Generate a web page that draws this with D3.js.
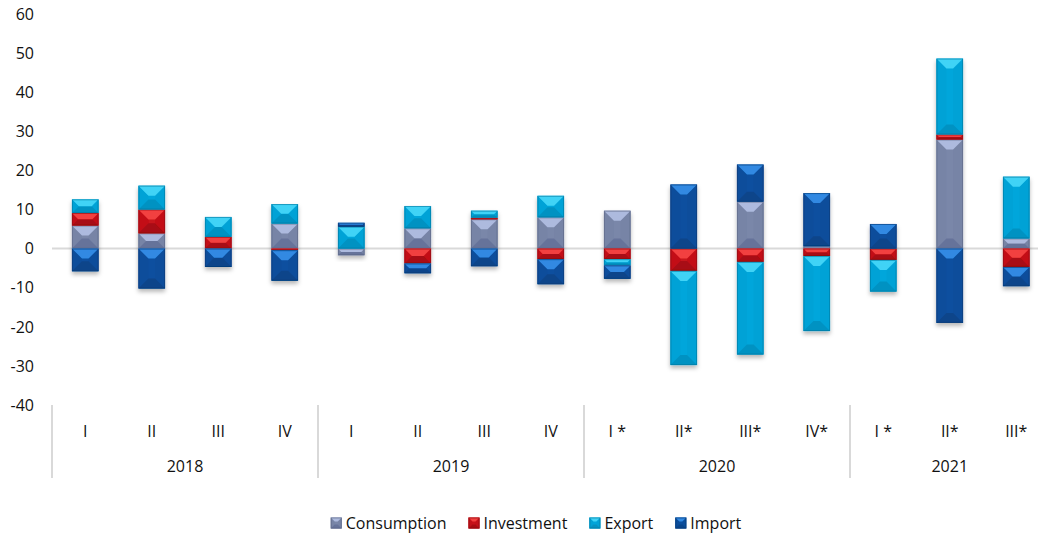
<!DOCTYPE html>
<html>
<head>
<meta charset="utf-8">
<script src="https://cdn.jsdelivr.net/npm/d3@7"></script>
<style>
  html, body { margin: 0; padding: 0; background: #fff; }
  svg { display: block; font-family: "Open Sans", "Noto Sans", sans-serif; }
</style>
</head>
<body>
<svg id="chart" width="1038" height="534"></svg>
<script>
// ---- data ----
const quarters = ["I","II","III","IV","I","II","III","IV","I *","II*","III*","IV*","I *","II*","III*"];
const years = ["2018","2019","2020","2021"];
const yearCounts = [4, 4, 4, 3];
const seriesNames = ["Consumption","Investment","Export","Import"];
const consumption = [5.9, 3.9, 0, 6.4, -1.7, 5.2, 7.5, 8.0, 9.7, 0, 12.0, 0.6, 0, 27.9, 2.6];
const investment  = [3.2, 6.1, 3.0, -0.4, 0, -3.8, 0.4, -2.7, -2.7, -5.7, -3.4, -1.9, -2.9, 1.3, -4.7];
const exportVals  = [3.5, 6.1, 5.1, 5.0, 5.6, 5.7, 1.8, 5.5, -1.6, -24.1, -23.7, -19.2, -8.1, 19.4, 15.8];
const importVals  = [-5.8, -10.2, -4.7, -7.8, 1.0, -2.5, -4.5, -6.4, -3.4, 16.4, 9.5, 13.6, 6.3, -19.0, -4.9];
const yTicks = [-40, -30, -20, -10, 0, 10, 20, 30, 40, 50, 60];

// ---- styles ----
const palette = {
  Consumption: { base: "#7a87a9", top: "#adbade", bot: "#66739a", side: "#7784a6", stroke: "#5b6683" },
  Investment:  { base: "#c8121a", top: "#f2403f", bot: "#a80c12", side: "#c31119", stroke: "#8a0b10" },
  Export:      { base: "#00a6db", top: "#3fd3f6", bot: "#0592c2", side: "#01a2d6", stroke: "#05789f" },
  Import:      { base: "#0b4f9f", top: "#3189e2", bot: "#09458a", side: "#0b4d9b", stroke: "#073a75" }
};

const svg = d3.select("#chart");
const W = 1038, H = 534;
const plotL = 52, band = 66.5;
const FS = 16;
const x = d3.scaleBand().domain(d3.range(quarters.length)).range([plotL, plotL + band * quarters.length]).paddingInner(0.6).paddingOuter(0.3);
const y = d3.scaleLinear().domain([-40, 60]).range([405, 14]);

const defs = svg.append("defs");
const f = defs.append("filter").attr("id", "shadow").attr("x", "-30%").attr("y", "-10%").attr("width", "160%").attr("height", "130%");
f.append("feDropShadow").attr("dx", 0).attr("dy", 3).attr("stdDeviation", 2.2).attr("flood-color", "#000").attr("flood-opacity", 0.28);

// y tick labels
svg.append("g").selectAll("text").data(yTicks).join("text")
  .attr("x", 34).attr("y", d => y(d)).attr("dy", "0.36em")
  .attr("text-anchor", "end").attr("font-size", FS).attr("fill", "#111")
  .text(d => d);

// stacked data
const rows = quarters.map((q, i) => ({
  i, Consumption: consumption[i], Investment: investment[i], Export: exportVals[i], Import: importVals[i]
}));
const stacked = d3.stack().keys(seriesNames).offset(d3.stackOffsetDiverging)(rows);

// zero line (category axis)
svg.append("line").attr("x1", plotL).attr("x2", W).attr("y1", y(0)).attr("y2", y(0))
  .attr("stroke", "#d9d9d9").attr("stroke-width", 2);

// bars
function bevel(g, x0, x1, y0, y1, c, bmax) {
  const w = x1 - x0, h = y1 - y0;
  if (h <= 0.05) return;
  const b = Math.min(bmax || 10, h / 2, w / 2 - 1);
  const poly = pts => pts.map(p => p.join(",")).join(" ");
  g.append("rect").attr("x", x0).attr("y", y0).attr("width", w).attr("height", h).attr("fill", c.base);
  g.append("polygon").attr("points", poly([[x0,y0],[x0+b,y0+b],[x0+b,y1-b],[x0,y1]])).attr("fill", c.side);
  g.append("polygon").attr("points", poly([[x1,y0],[x1-b,y0+b],[x1-b,y1-b],[x1,y1]])).attr("fill", c.side);
  g.append("polygon").attr("points", poly([[x0,y1],[x1,y1],[x1-b,y1-b],[x0+b,y1-b]])).attr("fill", c.bot);
  g.append("polygon").attr("points", poly([[x0,y0],[x1,y0],[x1-b,y0+b],[x0+b,y0+b]])).attr("fill", c.top);
  g.append("rect").attr("x", x0 + 0.5).attr("y", y0 + 0.5).attr("width", w - 1).attr("height", Math.max(0, h - 1))
    .attr("fill", "none").attr("stroke", c.stroke).attr("stroke-width", 1).attr("stroke-opacity", 0.6);
}

const barLayer = svg.append("g");
rows.forEach((r, i) => {
  const g = barLayer.append("g").attr("filter", "url(#shadow)");
  stacked.forEach(s => {
    const d = s[i];
    const top = y(Math.max(d[0], d[1])), bot = y(Math.min(d[0], d[1]));
    bevel(g, x(i), x(i) + x.bandwidth(), top, bot, palette[s.key], 10);
  });
});

// category labels
svg.append("g").selectAll("text").data(quarters).join("text")
  .attr("x", (d, i) => x(i) + x.bandwidth() / 2).attr("y", 431).attr("dy", "0.36em")
  .attr("text-anchor", "middle").attr("font-size", FS).attr("fill", "#111").text(d => d);

// year groups
let start = 0;
const bounds = [];
years.forEach((yr, k) => {
  bounds.push({ yr, s: start, e: start + yearCounts[k] });
  start += yearCounts[k];
});
const step = x.step();
const xAt = idx => x.range()[0] + idx * step;
svg.append("g").selectAll("line").data(bounds).join("line")
  .attr("x1", d => xAt(d.s)).attr("x2", d => xAt(d.s)).attr("y1", 405).attr("y2", 478)
  .attr("stroke", "#d9d9d9").attr("stroke-width", 2);
svg.append("g").selectAll("text").data(bounds).join("text")
  .attr("x", d => (xAt(d.s) + xAt(d.e)) / 2).attr("y", 466).attr("dy", "0.36em")
  .attr("text-anchor", "middle").attr("font-size", FS).attr("fill", "#111").text(d => d.yr);

// legend
const leg = svg.append("g");
let lx = 0;
seriesNames.forEach(name => {
  const g = leg.append("g");
  const c = palette[name];
  const mk = g.append("g");
  bevel(mk, 0, 11, -5.5, 5.5, c, 4);
  const t = g.append("text").attr("x", 15).attr("y", 0).attr("dy", "0.36em")
    .attr("font-size", FS).attr("fill", "#111").text(name);
  const w = 15 + t.node().getComputedTextLength();
  g.attr("transform", `translate(${lx},0)`);
  lx += w + 22;
});
const legW = lx - 22;
leg.attr("transform", `translate(${536 - legW / 2},523)`);
</script>
</body>
</html>
